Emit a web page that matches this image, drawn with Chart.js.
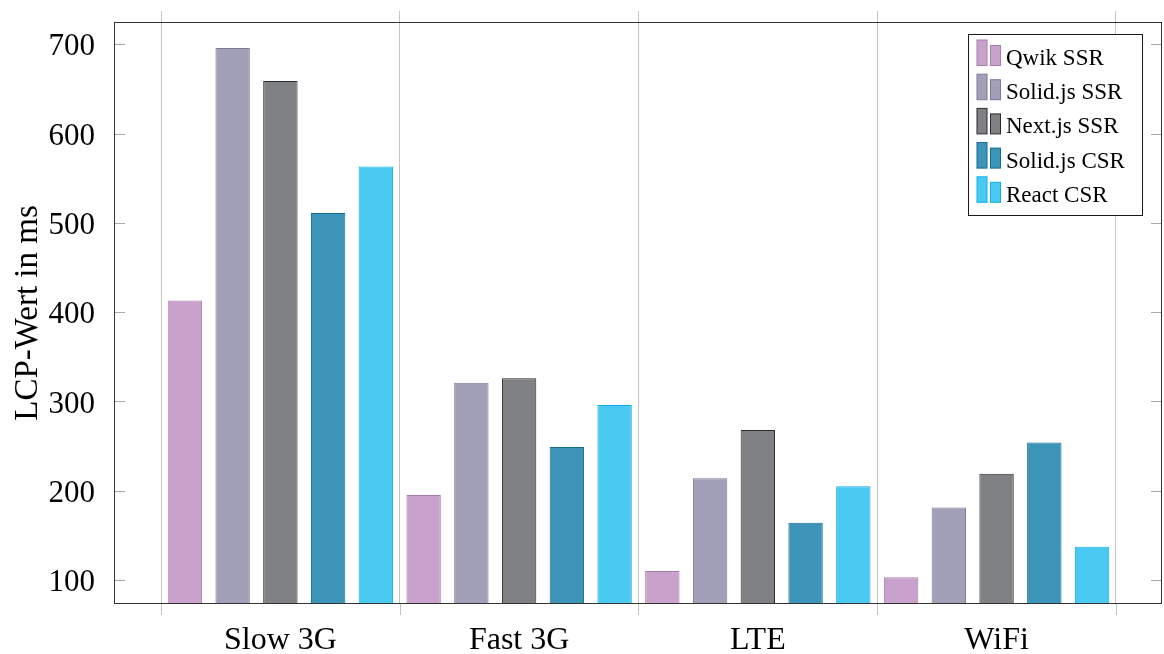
<!DOCTYPE html>
<html>
<head>
<meta charset="utf-8">
<script src="https://cdn.jsdelivr.net/npm/chart.js@4.4.1/dist/chart.umd.min.js"></script>
<style>
  html, body { margin: 0; padding: 0; background: #ffffff; }
  #wrap { width: 1164px; height: 654px; }
</style>
</head>
<body>
<div id="wrap"><canvas id="lcp" width="1164" height="654"></canvas></div>
<script>
// Network profiles on the x axis
const networks = ['Slow 3G', 'Fast 3G', 'LTE', 'WiFi'];

// LCP per framework / rendering mode (ms)
const qwikSSR  = [413, 195, 110, 103];
const solidSSR = [696, 321, 214, 181];
const nextSSR  = [659, 326, 268, 219];
const solidCSR = [511, 249, 164, 254];
const reactCSR = [563, 296, 205, 137];

const seriesNames = ['Qwik SSR', 'Solid.js SSR', 'Next.js SSR', 'Solid.js CSR', 'React CSR'];
const seriesValues = [qwikSSR, solidSSR, nextSSR, solidCSR, reactCSR];

// y tick labels
const yTicks = [100, 200, 300, 400, 500, 600, 700];

const fills   = ['#c9a2cb', '#a29fb8', '#808185', '#3d94b9', '#4ac9f3'];
const borders = ['#a97cb0', '#7e799a', '#2b2b2b', '#156b91', '#0fb0e8'];

const SERIF = "'Liberation Serif', 'Times New Roman', serif";

const datasets = seriesNames.map((name, i) => ({
  label: name,
  data: seriesValues[i].map((v, k) => ({ x: k, y: v })),
  backgroundColor: fills[i],
  borderColor: borders[i],
  borderWidth: 1,
  xAxisID: 'x',
  yAxisID: 'y'
}));

// Box around the plot, inward y ticks, outward x tick stubs
const framePlugin = {
  id: 'frame',
  afterDatasetsDraw(chart) {
    const { ctx, chartArea: a, scales } = chart;
    ctx.save();
    ctx.lineWidth = 1;
    ctx.strokeStyle = '#a8a8a8';
    ctx.beginPath();
    scales.y.ticks.forEach(t => {
      const py = Math.round(scales.y.getPixelForValue(t.value)) + 0.5;
      ctx.moveTo(a.left, py); ctx.lineTo(a.left + 11, py);
      ctx.moveTo(a.right, py); ctx.lineTo(a.right - 11, py);
    });
    ctx.stroke();
    ctx.strokeStyle = '#c4c4c4';
    ctx.beginPath();
    scales.xg.ticks.forEach(t => {
      const px = Math.round(scales.xg.getPixelForValue(t.value)) + 0.5;
      ctx.moveTo(px, a.bottom); ctx.lineTo(px, a.bottom + 11);
    });
    ctx.stroke();
    ctx.strokeStyle = '#333333';
    ctx.strokeRect(Math.round(a.left) + 0.5, Math.round(a.top) + 0.5,
                   Math.round(a.right - a.left) - 1, Math.round(a.bottom - a.top) - 1);
    ctx.restore();
  }
};

// Legend box with the two-bar ybar glyphs
const barLegendPlugin = {
  id: 'barLegend',
  afterDraw(chart) {
    const { ctx, chartArea: a } = chart;
    const boxW = 174, boxH = 181;
    const bx = a.right - 19.5 - boxW, by = a.top + 12.5;
    const step = 34.2;
    ctx.save();
    ctx.fillStyle = '#ffffff';
    ctx.fillRect(bx, by, boxW, boxH);
    ctx.lineWidth = 1;
    ctx.strokeStyle = '#1a1a1a';
    ctx.strokeRect(bx, by, boxW, boxH);
    chart.data.datasets.forEach((ds, i) => {
      const base = by + 31 + i * step;
      ctx.fillStyle = ds.backgroundColor;
      ctx.strokeStyle = ds.borderColor;
      ctx.fillRect(bx + 8.5, base - 25.5, 10, 25.5);
      ctx.strokeRect(bx + 8.5, base - 25.5, 10, 25.5);
      ctx.fillRect(bx + 22, base - 20, 10, 20);
      ctx.strokeRect(bx + 22, base - 20, 10, 20);
      ctx.fillStyle = '#000000';
      ctx.font = "23px " + SERIF;
      ctx.textBaseline = 'alphabetic';
      ctx.textAlign = 'left';
      ctx.fillText(ds.label, bx + 37.5, base - 0.5);
    });
    ctx.restore();
  }
};

const noEdgePadding = s => { s.paddingTop = 0; s.paddingBottom = 0; s.paddingLeft = 0; s.paddingRight = 0; };

new Chart(document.getElementById('lcp'), {
  type: 'bar',
  data: { datasets },
  options: {
    responsive: false,
    animation: false,
    devicePixelRatio: 1,
    layout: { padding: { top: 22, right: 2, left: 0, bottom: 0 } },
    datasets: { bar: { categoryPercentage: 1.0, barPercentage: 0.72 } },
    plugins: { legend: { display: false }, tooltip: { enabled: false } },
    scales: {
      x: {
        type: 'linear',
        position: 'bottom',
        offset: false,
        min: -0.697,
        max: 3.693,
        afterBuildTicks: s => { s.ticks = networks.map((_, i) => ({ value: i })); },
        afterFit: s => { s.height = 50; noEdgePadding(s); },
        grid: { display: false, offset: false },
        border: { display: false },
        ticks: {
          autoSkip: false,
          maxRotation: 0,
          padding: 9,
          color: '#000000',
          font: { family: SERIF, size: 32 },
          callback: v => networks[v]
        }
      },
      xg: {
        type: 'linear',
        position: 'top',
        offset: false,
        min: -0.697,
        max: 3.693,
        afterBuildTicks: s => { s.ticks = networks.map((_, i) => ({ value: i - 0.5 })).concat([{ value: networks.length - 0.5 }]); },
        afterFit: s => { s.height = 0; noEdgePadding(s); },
        grid: { offset: false, color: '#c4c4c4', lineWidth: 1, drawTicks: true, tickLength: 11, tickColor: '#c4c4c4' },
        border: { display: false },
        ticks: { display: false }
      },
      y: {
        min: 73,
        max: 725,
        afterBuildTicks: s => { s.ticks = yTicks.map(v => ({ value: v })); },
        afterFit: s => { s.width = 114; noEdgePadding(s); },
        grid: { display: false },
        border: { display: false },
        ticks: { padding: 11, labelOffset: 3, color: '#000000', font: { family: SERIF, size: 31 } },
        title: {
          display: true,
          text: 'LCP-Wert in ms',
          color: '#000000',
          font: { family: SERIF, size: 33 },
          padding: { top: 9, bottom: 0 }
        }
      }
    }
  },
  plugins: [framePlugin, barLegendPlugin]
});
</script>
</body>
</html>
